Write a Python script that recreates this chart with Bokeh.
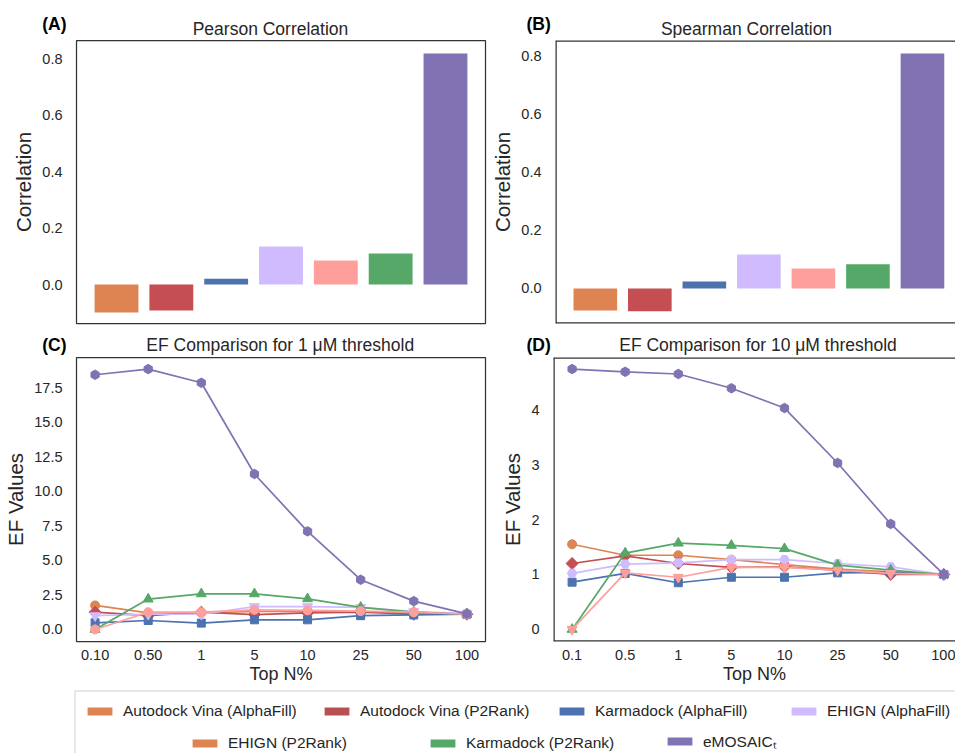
import math
from bokeh.plotting import figure
from bokeh.models import Range1d, FixedTicker, Legend, LegendItem, Span, PrintfTickFormatter
from bokeh.layouts import column, row
from bokeh.core.properties import value
from bokeh.embed import file_html
from bokeh.resources import INLINE

# ---------------- data ----------------
methods = ["Autodock Vina (AlphaFill)", "Autodock Vina (P2Rank)", "Karmadock (AlphaFill)",
           "EHIGN (AlphaFill)", "EHIGN (P2Rank)", "Karmadock (P2Rank)", "eMOSAIC\u209c"]
bar_colors = ["#dd8452", "#c44e52", "#4c72b0", "#d0bbff", "#ff9f9b", "#55a868", "#8172b3"]
legend_colors = ["#dd8452", "#b85052", "#4c72b0", "#d0bbff", "#dd8452", "#55a868", "#8172b3"]

pearson = [-0.099, -0.092, 0.021, 0.135, 0.085, 0.110, 0.819]
spearman = [-0.076, -0.079, 0.024, 0.117, 0.069, 0.083, 0.810]

top_n_c = ["0.10", "0.50", "1", "5", "10", "25", "50", "100"]
top_n_d = ["0.1", "0.5", "1", "5", "10", "25", "50", "100"]

# EF at 1 uM threshold (panel C)
c_vina_af = [1.74, 1.20, 1.20, 1.30, 1.30, 1.30, 1.20, 1.10]
c_vina_p2 = [1.25, 1.00, 1.25, 1.08, 1.20, 1.25, 1.10, 1.10]
c_karma_af = [0.48, 0.65, 0.46, 0.70, 0.70, 1.00, 1.05, 1.10]
c_ehign_af = [1.00, 1.10, 1.10, 1.66, 1.66, 1.60, 1.30, 1.15]
c_ehign_p2 = [0.00, 1.25, 1.25, 1.42, 1.38, 1.33, 1.25, 1.10]
c_karma_p2 = [0.00, 2.20, 2.58, 2.58, 2.22, 1.60, 1.25, 1.10]
c_emosaic = [18.43, 18.84, 17.85, 11.25, 7.10, 3.60, 2.05, 1.13]

# EF at 10 uM threshold (panel D)
d_vina_af = [1.55, 1.35, 1.35, 1.27, 1.18, 1.10, 1.05, 1.00]
d_vina_p2 = [1.20, 1.34, 1.20, 1.13, 1.14, 1.08, 1.00, 1.00]
d_karma_af = [0.86, 1.02, 0.85, 0.95, 0.95, 1.03, 1.04, 1.00]
d_ehign_af = [1.02, 1.19, 1.21, 1.27, 1.27, 1.20, 1.14, 1.00]
d_ehign_p2 = [0.00, 1.03, 0.95, 1.13, 1.13, 1.08, 1.02, 1.00]
d_karma_p2 = [0.00, 1.39, 1.57, 1.53, 1.47, 1.17, 1.08, 1.00]
d_emosaic = [4.74, 4.69, 4.65, 4.39, 4.03, 3.03, 1.92, 1.00]

corr_ticks = [0.0, 0.2, 0.4, 0.6, 0.8]
c_ticks = [0.0, 2.5, 5.0, 7.5, 10.0, 12.5, 15.0, 17.5]
d_ticks = [0, 1, 2, 3, 4]

titles = ["Pearson Correlation", "Spearman Correlation",
          "EF Comparison for 1 \u03bcM threshold", "EF Comparison for 10 \u03bcM threshold"]
letters = ["(A)", "(B)", "(C)", "(D)"]

FONT = "Liberation Sans"
TXT = "#262626"
FRAME = "#333333"


def header(width, height, title, title_x, title_y, letter, letter_x, letter_y):
    """Strip above a panel that carries its title and panel letter (y = text middle)."""
    h = figure(width=width, height=height, min_border_left=0, min_border_right=0,
               min_border_top=0, min_border_bottom=0,
               x_range=Range1d(0, width), y_range=Range1d(0, height),
               toolbar_location=None, output_backend="svg")
    h.xaxis.visible = False
    h.yaxis.visible = False
    h.xgrid.visible = False
    h.ygrid.visible = False
    h.outline_line_color = None
    h.text(x=[title_x], y=[title_y], text=[title], text_font=value(FONT),
           text_font_size=value("17.5px"), text_color=TXT, text_align="center",
           text_baseline="middle")
    h.text(x=[letter_x], y=[letter_y], text=[letter], text_font=value(FONT),
           text_font_size=value("17.5px"), text_font_style="bold", text_color="black",
           text_align="left", text_baseline="middle")
    return h


def style(p, open_right=False):
    p.xgrid.visible = False
    p.ygrid.visible = False
    for ax in p.axis:
        ax.axis_line_color = None
        ax.major_tick_line_color = None
        ax.minor_tick_line_color = None
        ax.major_tick_out = 0
        ax.major_tick_in = 0
        ax.major_label_text_font = FONT
        ax.major_label_text_font_size = "14.5px"
        ax.major_label_text_color = TXT
        ax.axis_label_text_font = FONT
        ax.axis_label_text_font_style = "normal"
        ax.axis_label_text_color = TXT
    if open_right:
        # frame continues past the page edge: draw only top, bottom and left sides
        p.outline_line_color = None
        p.add_layout(Span(location=p.y_range.end, dimension="width", line_color=FRAME, line_width=2.5))
        p.add_layout(Span(location=p.y_range.start, dimension="width", line_color=FRAME, line_width=2.5))
        p.add_layout(Span(location=p.x_range.start, dimension="height", line_color=FRAME, line_width=2.5))
    else:
        p.outline_line_color = FRAME
        p.outline_line_width = 1.25


def bar_panel(vals, width, mbl, mbr, x_end, y_rng, open_right):
    p = figure(width=width, height=287, min_border_left=mbl, min_border_right=mbr,
               min_border_top=2, min_border_bottom=2,
               x_range=Range1d(-0.73, x_end), y_range=Range1d(*y_rng),
               toolbar_location=None, output_backend="svg")
    xs = list(range(len(methods)))
    p.vbar(x=xs, top=vals, bottom=0, width=0.8, fill_color=bar_colors, line_color=None)
    style(p, open_right)
    p.xaxis.visible = False
    p.yaxis.ticker = FixedTicker(ticks=corr_ticks)
    p.yaxis.formatter = PrintfTickFormatter(format="%.1f")
    p.yaxis.axis_label = "Correlation"
    p.yaxis.axis_label_text_font_size = "20.5px"
    p.yaxis.major_label_standoff = 14
    p.yaxis.axis_label_standoff = 4
    return p


def ef_panel(series, marks, labels, ticks, fmt, width, mbl, mbr, x_end, y_rng, open_right):
    p = figure(width=width, height=335, min_border_left=mbl, min_border_right=mbr,
               min_border_top=2, min_border_bottom=49,
               x_range=Range1d(-0.35, x_end), y_range=Range1d(*y_rng),
               toolbar_location=None, output_backend="svg")
    xs = list(range(len(labels)))
    for vals, ((mk, ang, sz), color) in zip(series, marks):
        p.line(xs, vals, line_color=color, line_width=1.7)
        p.scatter(xs, vals, marker=mk, angle=ang, size=sz, fill_color=color, line_color=color)
    style(p, open_right)
    p.xaxis.ticker = FixedTicker(ticks=xs)
    p.xaxis.major_label_overrides = {i: lab for i, lab in zip(xs, labels)}
    p.xaxis.axis_label = "Top N%"
    p.xaxis.axis_label_text_font_size = "18px"
    p.xaxis.major_label_standoff = 8
    p.xaxis.axis_label_standoff = 1
    p.yaxis.ticker = FixedTicker(ticks=ticks)
    p.yaxis.formatter = PrintfTickFormatter(format=fmt)
    p.yaxis.axis_label = "EF Values"
    p.yaxis.axis_label_text_font_size = "20.5px"
    p.yaxis.major_label_standoff = 14
    p.yaxis.axis_label_standoff = 4
    return p


hA = header(488, 38, titles[0], 270, 9.8, letters[0], 41.7, 14.8)
hB = header(467, 38, titles[1], 258, 9.8, letters[1], 38, 14.8)
pA = bar_panel(pearson, 488, 76, 3, 6.73, (-0.138, 0.865), False)
pB = bar_panel(spearman, 467, 65, 0, 6.606, (-0.121, 0.855), True)

c_series = [c_vina_af, c_vina_p2, c_karma_af, c_ehign_af, c_karma_p2, c_ehign_p2, c_emosaic]
d_series = [d_vina_af, d_vina_p2, d_karma_af, d_ehign_af, d_karma_p2, d_ehign_p2, d_emosaic]
c_marks = [(("circle", 0, 9), "#dd8452"), (("square", math.pi / 4, 8.5), "#c44e52"),
           (("square", 0, 8), "#4c72b0"), (("inverted_triangle", 0, 10), "#d0bbff"),
           (("triangle", 0, 10), "#55a868"), (("circle", 0, 9), "#ff9f9b"),
           (("hex", math.pi / 2, 9.5), "#8172b3")]
d_marks = [(("circle", 0, 9), "#dd8452"), (("square", math.pi / 4, 8.5), "#c44e52"),
           (("square", 0, 8), "#4c72b0"), (("hex", 0, 9.5), "#d0bbff"),
           (("triangle", 0, 10), "#55a868"), (("inverted_triangle", 0, 10), "#ff9f9b"),
           (("hex", math.pi / 2, 9.5), "#8172b3")]

hC = header(488, 30, titles[2], 279.7, 10.4, letters[2], 41.7, 10.6)
hD = header(467, 30, titles[3], 269.5, 10.4, letters[3], 38, 10.6)
pC = ef_panel(c_series, c_marks, top_n_c, c_ticks, "%.1f", 488, 76, 3, 7.35, (-0.87, 19.68), False)
pD = ef_panel(d_series, d_marks, top_n_d, d_ticks, "%d", 467, 65, 0, 7.22, (-0.22, 4.95), True)

# ---------------- legend strip ----------------
pL = figure(width=955, height=63, min_border_left=74, min_border_right=0, min_border_top=0,
            min_border_bottom=0, x_range=Range1d(0, 1), y_range=Range1d(0, 1),
            toolbar_location=None, output_backend="svg")
pL.xaxis.visible = False
pL.yaxis.visible = False
pL.xgrid.visible = False
pL.ygrid.visible = False
pL.outline_line_color = None
pL.add_layout(Span(location=1, dimension="width", line_color="#d0d0d0", line_width=2))
pL.add_layout(Span(location=0, dimension="height", line_color="#d0d0d0", line_width=2))

leg_pos = [(10, 33), (247, 33), (482, 33), (714, 33), (115, 1), (353, 1), (590, 1)]
for name, col, loc in zip(methods, legend_colors, leg_pos):
    # off-range placeholder so the legend has a swatch to draw
    r = pL.vbar(x=[5], top=[1], width=0.5, fill_color=col, line_color=None)
    lg = Legend(items=[LegendItem(label=value(name), renderers=[r])], location=loc,
                orientation="horizontal", glyph_width=31, glyph_height=10, label_standoff=8,
                padding=0, margin=0, border_line_color=None, background_fill_alpha=0,
                label_text_font=FONT, label_text_font_size="15.5px", label_text_color=TXT)
    pL.add_layout(lg, "center")

layout = column(row(hA, hB), row(pA, pB), row(hC, hD), row(pC, pD), pL)
open("out.html", "w").write(file_html(layout, INLINE))
